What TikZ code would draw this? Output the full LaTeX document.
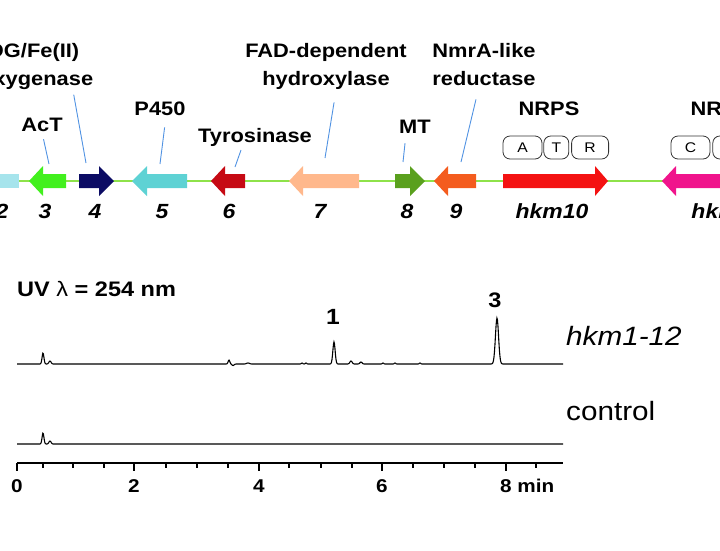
\documentclass[tikz,border=0pt]{standalone}
\usepackage{fontspec}
\setmainfont[FakeStretch=1.12]{Liberation Sans}
\usepackage{tikz}
\usetikzlibrary{positioning, calc}
\definecolor{GenomeGreen}{RGB}{142,226,74}
\definecolor{PointerBlue}{RGB}{80,146,226}
\definecolor{GeneCyan}{RGB}{166,228,236}
\definecolor{GeneLime}{RGB}{66,240,30}
\definecolor{GeneNavy}{RGB}{12,12,100}
\definecolor{GeneTeal}{RGB}{94,210,212}
\definecolor{GeneDarkRed}{RGB}{198,10,20}
\definecolor{GenePeach}{RGB}{255,184,140}
\definecolor{GeneOlive}{RGB}{90,160,30}
\definecolor{GeneOrange}{RGB}{244,92,30}
\definecolor{GeneRed}{RGB}{244,18,18}
\definecolor{GeneMagenta}{RGB}{240,20,140}

\newcommand{\drawgene}[4]{\fill[#4] (#1,174) -- (#2,174) -- (#2,166) -- (#3,181) -- (#2,196) -- (#2,188) -- (#1,188) -- cycle;}

\begin{document}
\begin{tikzpicture}[x=1pt, y=-1pt,
  label style/.style={
    font=\fontsize{19.5}{28}\selectfont\bfseries,
    align=center,
    inner sep=1pt,
  },
  num style/.style={
    font=\fontsize{20.5}{24}\selectfont\bfseries\itshape,
    anchor=base,
    inner sep=1pt,
  },
  domain box/.style={
    draw=black!80,
    fill=white,
    line width=0.8pt,
    rounded corners=7pt,
    minimum height=23pt,
    minimum width=#1,
    inner sep=0pt,
    font=\fontsize{14}{16}\selectfont,
  },
  pointer/.style={
    draw=PointerBlue,
    line width=0.9pt,
    shorten <=#1
  },
  trace/.style={line width=1.1pt, black},
  tick style/.style={font=\fontsize{18.5}{22}\selectfont\bfseries, anchor=base, inner sep=0pt},
  declare function={pk(\xx,\cc,\ww)=exp(0-pow(min(abs(\xx-\cc)/\ww,10),2));}
]
\useasboundingbox (0,0) rectangle (720,550);
\clip (0,0) rectangle (720,550);

\draw[GenomeGreen, line width=1.4pt] (0,181) -- (720,181);

\fill[GeneCyan] (-10,174) rectangle (19,188);
\drawgene{66}{43}{29}{GeneLime}
\drawgene{79}{99}{114}{GeneNavy}
\drawgene{187}{147}{132}{GeneTeal}
\drawgene{245}{225}{211}{GeneDarkRed}
\drawgene{359}{303}{289}{GenePeach}
\drawgene{395}{410}{425}{GeneOlive}
\drawgene{476}{448}{434}{GeneOrange}
\drawgene{503}{595}{608}{GeneRed}
\drawgene{800}{676}{662}{GeneMagenta}

\coordinate (g3) at (49,164);
\coordinate (g4) at (86,163);
\coordinate (g5) at (160,164);
\coordinate (g6) at (235,167);
\coordinate (g7) at (325,158);
\coordinate (g8) at (403,162);
\coordinate (g9) at (461,162);

\node[label style, anchor=north] (oxy) at (27,42) {2OG/Fe(II)\\dioxygenase};
\node[label style, anchor=base] (act) at (42,131) {AcT};
\node[label style, anchor=base] (cyp) at (160,115) {P450};
\node[label style, anchor=base] (tyr) at (255,142) {Tyrosinase};
\node[label style, anchor=north] (fad) at (326,42) {FAD-dependent\\hydroxylase};
\node[label style, anchor=base] (mt) at (415,133) {MT};
\node[label style, anchor=north] (nmr) at (484,42) {NmrA-like\\reductase};
\node[label style, anchor=base] (nrps10) at (549,115) {NRPS};
\node[label style, anchor=base] (nrps11) at (721,115) {NRPS};

\draw[pointer=4pt] ([xshift=46pt]oxy.south) -- (g4);
\draw[pointer=7pt] (act.south) -- (g3);
\draw[pointer=11pt] ([xshift=6pt]cyp.south) -- (g5);
\draw[pointer=3pt] ([xshift=-13pt]tyr.south) -- (g6);
\draw[pointer=12pt] ([xshift=10pt]fad.south) -- (g7);
\draw[pointer=9pt] ([xshift=-9pt]mt.south) -- (g8);
\draw[pointer=13pt] ([xshift=-5pt]nmr.south) -- (g9);

\node[domain box=39pt] (dA) at (522.5,147.5) {A};
\node[domain box=25pt, right=1pt of dA] (dT) {T};
\node[domain box=37pt, right=2pt of dT] (dR) {R};
\node[domain box=39pt] (dC) at (690.5,147.5) {C};
\node[domain box=25pt, right=2pt of dC] (dT2) {T};

\node[num style] (n2) at (2,218) {2};
\node[num style] (n3) at (45,218) {3};
\node[num style] (n4) at (95,218) {4};
\node[num style] (n5) at (162,218) {5};
\node[num style] (n6) at (229,218) {6};
\node[num style] (n7) at (320,218) {7};
\node[num style] (n8) at (407,218) {8};
\node[num style] (n9) at (456,218) {9};
\node[num style] (n10) at (552,218) {hkm10};
\node[num style] (n11) at (727,218) {hkm11};

\node[font=\fontsize{21}{24}\selectfont\bfseries, anchor=base west, inner sep=0pt] (uv) at (17,296) {UV {\mdseries λ} = 254 nm};

\draw[trace] plot[domain=17:563, samples=1100] (\x, {364 - 11*pk(\x,43,1.3) - 3*pk(\x,50,1.5) - 4*pk(\x,229,1.2) + 1.5*pk(\x,233,1.5) - 1*pk(\x,248,2) - 1*pk(\x,302,1) - 1*pk(\x,306,1) - 22*pk(\x,334,1.6) - 3*pk(\x,351,1.6) - 2*pk(\x,361,1.5) - 1*pk(\x,383,1) - 1*pk(\x,395,1) - 1*pk(\x,420,1) - 46*pk(\x,497,2.2)});
\draw[trace] plot[domain=17:563, samples=1100] (\x, {444 - 11*pk(\x,43,1.3) - 3*pk(\x,50,1.5)});

\node[font=\fontsize{22}{24}\selectfont\bfseries, anchor=base] (pk1) at (333,324) {1};
\node[font=\fontsize{21}{24}\selectfont\bfseries, anchor=base] (pk3) at (495,307) {3};

\node[font=\fontsize{26.5}{30}\selectfont\itshape, anchor=base west, inner sep=0pt] (sample) at (566,345) {hkm1-12};
\node[font=\fontsize{26.5}{30}\selectfont, anchor=base west, inner sep=0pt] (ctrl) at (566,420) {control};

\draw[line width=1.1pt] (17,463) -- (563,463);
\foreach \x/\t in {17/0,134/2,259/4,382/6} {
  \draw[line width=1.1pt] (\x,463) -- (\x,471);
  \node[tick style] (t\t) at (\x,492) {\t};
}
\foreach \x in {43,73,104,166,197,228,289,321,352,413,444,475,536}
  \draw[line width=1.1pt] (\x,463) -- (\x,468);
\draw[line width=1.1pt] (506,463) -- (506,471);
\node[tick style, anchor=base west] (t8) at (500,492) {8 min};
\end{tikzpicture}
\end{document}
